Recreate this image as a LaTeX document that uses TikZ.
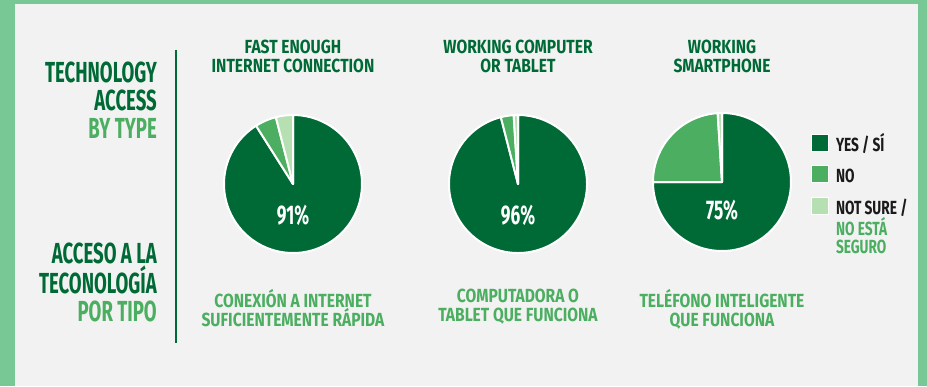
\documentclass[tikz,border=0pt]{standalone}
\usepackage{fontspec}
\usepackage{xcolor}
\usepackage{tikz}
\usetikzlibrary{positioning}
\newfontfamily\titlefont[FakeStretch=0.64]{Fira Sans}
\newfontfamily\headfont[FakeStretch=0.82]{Fira Sans}
\newfontfamily\keyfont[FakeStretch=0.72]{Fira Sans}
\definecolor{frame}{HTML}{78C896}
\definecolor{paper}{HTML}{F2F2F2}
\definecolor{dkgreen}{HTML}{006A36}
\definecolor{mdgreen}{HTML}{4BAE60}
\definecolor{ltgreen}{HTML}{B6E0B1}
\definecolor{ink}{HTML}{1A1A1A}
\tikzset{
	bigtitle/.style={font=\titlefont\bfseries\fontsize{29}{28}\selectfont, text=dkgreen, align=right, inner sep=0, anchor=north east},
	colhead/.style={font=\headfont\bfseries\fontsize{19}{19}\selectfont, text=dkgreen, align=center, inner sep=0, anchor=north},
	colsub/.style={colhead, text=mdgreen},
	pct/.style={font=\titlefont\bfseries\fontsize{27}{27}\selectfont, text=white, inner sep=0},
	keybox/.style={minimum size=17pt, inner sep=0, draw=white, line width=0.8pt, anchor=north west},
	keytext/.style={font=\keyfont\bfseries\fontsize{19}{18.5}\selectfont, text=ink, align=left, inner sep=0},
	wedge/.style={draw=white, line width=2pt, line join=round}
}

\begin{document}
\begin{tikzpicture}[x=1pt, y=-1pt]
	\useasboundingbox (0,0) rectangle (927,386);
	\fill[frame] (0,0) rectangle (927,386);
	\fill[paper] (15,4) rectangle (918,386);

	% titles on the left
	\node[bigtitle] (titleEn) at (157,62) {TECHNOLOGY\\ACCESS\\{\color{mdgreen}BY TYPE}};
	\node[bigtitle] (titleEs) at (157,243) {ACCESO A LA\\TECONOLOGÍA\\{\color{mdgreen}POR TIPO}};
	\coordinate (ruleTop) at (176,50);
	\coordinate (ruleBot) at (176,343);
	\draw[dkgreen, line width=1.5pt] (ruleTop) -- (ruleBot);

	% pies
	\foreach \cx/\cy/\yes/\no/\unsure/\dy [count=\c] in {293/184/91/5/4/31, 518/184/96/3/1/31, 722/182/75/24/1/28}
	{
		\pgfmathsetmacro\a{90+3.6*\unsure}
		\pgfmathsetmacro\b{\a+3.6*\no}
		\begin{scope}[shift={(\cx,\cy)}, yscale=-1]
			\filldraw[wedge, fill=dkgreen] (0,0) -- (\b:69) arc[start angle=\b, end angle=450, radius=69] -- cycle;
			\filldraw[wedge, fill=mdgreen] (0,0) -- (\a:69) arc[start angle=\a, end angle=\b, radius=69] -- cycle;
			\filldraw[wedge, fill=ltgreen] (0,0) -- (90:69) arc[start angle=90, end angle=\a, radius=69] -- cycle;
		\end{scope}
		\node[pct] (pct\c) at (\cx,\cy+\dy) {\yes\%};
	}

	% column heads
	\node[colhead] (headNet) at (293,40) {FAST ENOUGH\\INTERNET CONNECTION};
	\node[colhead] (headPc) at (518,40) {WORKING COMPUTER\\OR TABLET};
	\node[colhead] (headPhone) at (722,40) {WORKING\\SMARTPHONE};
	\node[colsub] (subNet) at (293,289) {CONEXIÓN A INTERNET\\SUFICIENTEMENTE RÁPIDA};
	\node[colsub] (subPc) at (518,289) {COMPUTADORA O\\TABLET QUE FUNCIONA};
	\node[colsub] (subPhone) at (722,289) {TELÉFONO INTELIGENTE\\QUE FUNCIONA};

	% key
	\node[keybox, fill=dkgreen] (keyYes) at (811,134) {};
	\node[keybox, fill=mdgreen] (keyNo) at (811,165) {};
	\node[keybox, fill=ltgreen] (keyUnsure) at (811,197) {};
	\node[keytext, right=7pt of keyYes.south east, anchor=base west] (txtYes) {YES / SÍ};
	\node[keytext, right=7pt of keyNo.south east, anchor=base west] (txtNo) {NO};
	\node[keytext, right=7pt of keyUnsure.south east, anchor=base west, yshift=-39pt] (txtUnsure) {NOT SURE /\\{\color{mdgreen}NO ESTÁ}\\{\color{mdgreen}SEGURO}};
\end{tikzpicture}
\end{document}
